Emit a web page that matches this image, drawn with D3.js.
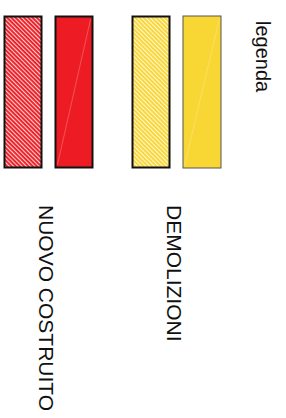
<!DOCTYPE html>
<html>
<head>
<meta charset="utf-8">
<script src="https://cdn.jsdelivr.net/npm/d3@7/dist/d3.min.js"></script>
<style>
html,body{margin:0;padding:0;background:#fff;}
svg{display:block;}
text{font-family:"Liberation Sans", Arial, sans-serif;fill:#111;}
</style>
</head>
<body>
<svg id="chart" width="286" height="418"></svg>
<script>
// Legend data
const categories = ["NUOVO COSTRUITO", "DEMOLIZIONI"];
const variants = ["tratteggiato", "pieno"];
const legendTitle = "legenda";

// styles (kept separate from data)
const fillColors = {"NUOVO COSTRUITO": "#ED1C24", "DEMOLIZIONI": "#F8D633"};
const solidBorders = {"NUOVO COSTRUITO": {stroke: "#111", w: 2}, "DEMOLIZIONI": {stroke: "#555", w: 1}};

const svg = d3.select("#chart");
const defs = svg.append("defs");

categories.forEach((c, i) => {
  const p = defs.append("pattern")
    .attr("id", "hatch" + i)
    .attr("patternUnits", "userSpaceOnUse")
    .attr("width", 3).attr("height", 3)
    .attr("patternTransform", "rotate(-45)");
  p.append("rect").attr("width", 3).attr("height", 3).attr("fill", fillColors[c]);
  p.append("rect").attr("x", 0).attr("y", 0).attr("width", 1.1).attr("height", 3).attr("fill", "#fff").attr("opacity", 0.8);
});

// group positions
const xGroup = d3.scaleBand().domain(categories).range([3.5, 259.5]).paddingInner(0).paddingOuter(0);
const xVar = d3.scaleBand().domain(variants).range([0, 90]).paddingInner(0.235);
const yTop = 15.5, yBot = 168.5;

const groups = svg.selectAll("g.grp").data(categories).join("g")
  .attr("class", "grp")
  .attr("transform", d => `translate(${xGroup(d)},0)`);

groups.each(function(c, i) {
  const g = d3.select(this);
  variants.forEach(v => {
    const bw = v === "tratteggiato" ? 2 : solidBorders[c].w;
    const stroke = v === "tratteggiato" ? "#111" : solidBorders[c].stroke;
    const x0 = xVar(v), w = xVar.bandwidth();
    g.append("rect")
      .attr("x", x0 + bw / 2).attr("y", yTop + bw / 2)
      .attr("width", w - bw).attr("height", yBot - yTop - bw)
      .attr("fill", v === "tratteggiato" ? `url(#hatch${i})` : fillColors[c])
      .attr("stroke", stroke).attr("stroke-width", bw);
    if (v === "pieno") {
      g.append("line")
        .attr("x1", x0 + w - bw - 1).attr("y1", yTop + bw + 2)
        .attr("x2", x0 + bw + 1).attr("y2", yBot - bw - 2)
        .attr("stroke", "#fff").attr("stroke-opacity", 0.3).attr("stroke-width", 0.8);
    }
  });
  g.append("text")
    .attr("transform", `translate(35,205) rotate(90)`)
    .attr("font-size", 21)
    .text(c);
});

svg.append("text")
  .attr("transform", "translate(256,21) rotate(90)")
  .attr("font-size", 20)
  .text(legendTitle);
</script>
</body>
</html>
